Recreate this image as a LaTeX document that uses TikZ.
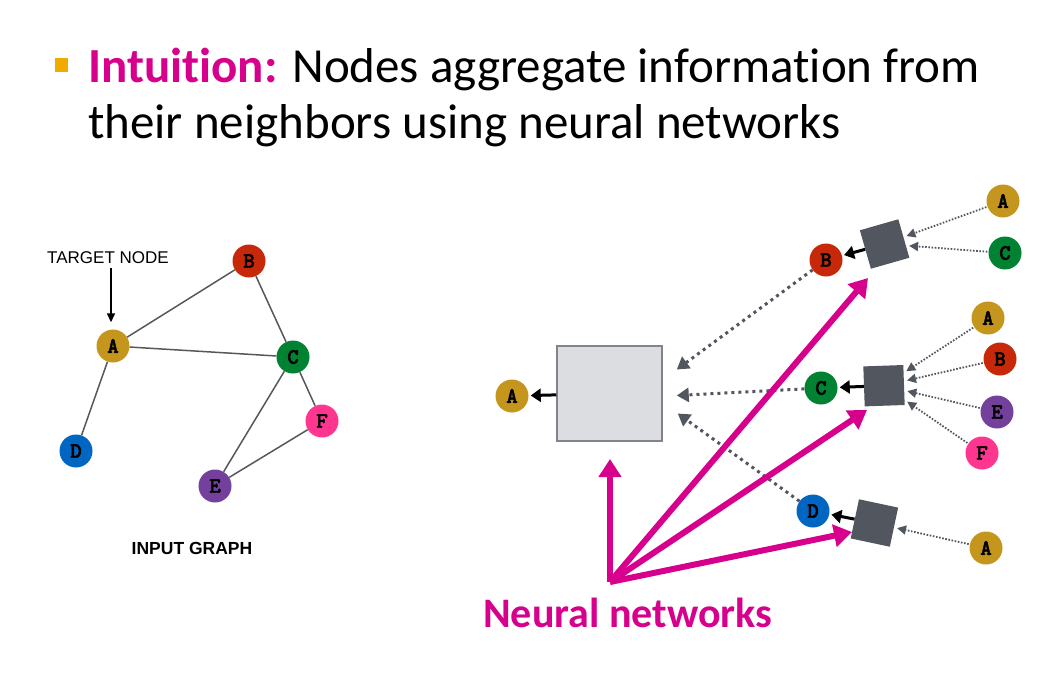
\documentclass[tikz,border=0pt]{standalone}
\usepackage{fontspec}
\usetikzlibrary{arrows.meta}
\newfontfamily\titlefont{Carlito}[Ligatures=NoCommon]
\newfontfamily\labelfont{Liberation Sans}
\IfFontExistsTF{lmmonolt10-bold.otf}
  {\newfontfamily\letterfont{lmmonolt10-bold.otf}[FakeBold=2]}
  {\newfontfamily\letterfont{Liberation Mono}[FakeBold=2]}

\definecolor{magentaT}{RGB}{214,0,140}
\definecolor{bulletc}{RGB}{240,170,0}
\definecolor{cA}{RGB}{196,150,30}
\definecolor{cB}{RGB}{200,40,10}
\definecolor{cC}{RGB}{0,130,50}
\definecolor{cD}{RGB}{0,102,194}
\definecolor{cE}{RGB}{115,65,155}
\definecolor{cF}{RGB}{255,54,144}
\definecolor{sqgray}{RGB}{82,86,95}
\definecolor{boxgray}{RGB}{220,221,225}
\definecolor{boxedge}{RGB}{130,132,140}
\definecolor{edgegray}{RGB}{85,87,92}

\tikzset{
  vtx/.style={circle, minimum size=33pt, inner sep=0pt,
    font=\letterfont\fontsize{22}{22}\selectfont},
  vA/.style={vtx, fill=cA}, vB/.style={vtx, fill=cB}, vC/.style={vtx, fill=cC},
  vD/.style={vtx, fill=cD}, vE/.style={vtx, fill=cE}, vF/.style={vtx, fill=cF},
  aggsq/.style={fill=sqgray, minimum size=40pt, inner sep=0pt},
  graphedge/.style={draw=edgegray, line width=1.5pt},
  blackarrow/.style={draw=black, line width=3pt,
    -{Triangle[length=10pt,width=13pt]}, shorten >=2pt},
  inarrow/.style={draw=sqgray, line width=1.8pt, dash pattern=on 1.6pt off 1.6pt,
    -{Triangle[length=9pt,width=9pt]}, shorten >=3pt, shorten <=1pt},
  outarrow/.style={draw=sqgray, line width=3pt, dash pattern=on 3pt off 4pt,
    -{Triangle[length=12pt,width=14pt]}},
  nnarrow/.style={draw=magentaT, line width=6pt,
    -{Triangle[length=18pt,width=22pt]}},
}

\begin{document}
\begin{tikzpicture}[x=1pt, y=-1pt]
\useasboundingbox (0,0) rectangle (1049,673);

% heading
\fill[bulletc] (55,58) rectangle (68,72);
\node[anchor=base west, inner sep=0pt, font=\titlefont\fontsize{49}{49}\selectfont]
  (line1) at (88,82) {\textcolor{magentaT}{\bfseries Intuition:} Nodes aggregate information from};
\node[anchor=base west, inner sep=0pt, font=\titlefont\fontsize{49}{49}\selectfont]
  (line2) at (88,138) {their neighbors using neural networks};

% input graph
\node[vA] (A) at (113,346) {A};
\node[vB] (B) at (249,261) {B};
\node[vC] (C) at (293,357) {C};
\node[vD] (D) at (76,451) {D};
\node[vE] (E) at (215,486) {E};
\node[vF] (F) at (322,421) {F};
\draw[graphedge] (A) -- (B);
\draw[graphedge] (A) -- (C);
\draw[graphedge] (A) -- (D);
\draw[graphedge] (B) -- (C);
\draw[graphedge] (C) -- (E);
\draw[graphedge] (C) -- (F);
\draw[graphedge] (E) -- (F);

\node[anchor=base, inner sep=0pt, font=\labelfont\fontsize{17}{17}\selectfont]
  (tlabel) at (108,263) {TARGET NODE};
\draw[black, line width=1.5pt, -{Triangle[length=9pt,width=8pt]}]
  ([xshift=3pt,yshift=-5pt]tlabel.south) -- ([xshift=-2pt]A.north) [shorten >=7pt];
\node[font=\labelfont\bfseries\fontsize{17.5}{17.5}\selectfont] (ilabel) at (192,548) {INPUT GRAPH};

% computation graph
\node[vA] (Aout) at (512,396) {A};
\node[fill=boxgray, draw=boxedge, line width=1.5pt, minimum width=105pt,
  minimum height=95pt, inner sep=0pt] (big) at (609.5,393.5) {};

\node[vB] (Bm) at (826,260) {B};
\node[vC] (Cm) at (821,388) {C};
\node[vD] (Dm) at (813,511) {D};

\node[aggsq, rotate=16] (Bsq) at (884.6,244) {};
\node[aggsq, rotate=2] (Csq) at (884,385.7) {};
\node[aggsq, rotate=-12] (Dsq) at (874.4,523) {};

\node[vA] (BA) at (1003,201) {A};
\node[vC] (BC) at (1005,253) {C};
\node[vA] (CA) at (988,318) {A};
\node[vB] (CB) at (1000,359) {B};
\node[vE] (CE) at (997,412) {E};
\node[vF] (CF) at (982,453) {F};
\node[vA] (DA) at (986,548) {A};

\draw[inarrow] (BA) -- (Bsq);
\draw[inarrow] (BC) -- (Bsq);
\draw[inarrow] (CA) -- (Csq);
\draw[inarrow] (CB) -- (Csq);
\draw[inarrow] (CE) -- (Csq);
\draw[inarrow] (CF) -- (Csq);
\draw[inarrow] (DA) -- (Dsq);

\draw[blackarrow] (Bsq) -- (Bm);
\draw[blackarrow] (Csq) -- (Cm);
\draw[blackarrow] (Dsq) -- (Dm);
\draw[blackarrow] (big) -- (Aout);

\draw[outarrow] (Bm) -- ([shift={(14,-24)}]big.east);
\draw[outarrow] (Cm) -- ([shift={(14,2)}]big.east);
\draw[outarrow] (Dm) -- ([shift={(15,20)}]big.east);

% neural network arrows
\coordinate (nn) at (610,582);
\coordinate (nnUp) at (610,459);
\coordinate (nnB) at (868,278);
\coordinate (nnC) at (867,410);
\coordinate (nnD) at (852,532);
\draw[nnarrow] (nn) -- (nnUp);
\draw[nnarrow] (nn) -- (nnB);
\draw[nnarrow] (nn) -- (nnC);
\draw[nnarrow] (nn) -- (nnD);
\node[anchor=base west, inner sep=0pt, text=magentaT,
  font=\titlefont\bfseries\fontsize{42}{42}\selectfont] (nnlabel) at (483,627) {Neural networks};
\end{tikzpicture}
\end{document}
